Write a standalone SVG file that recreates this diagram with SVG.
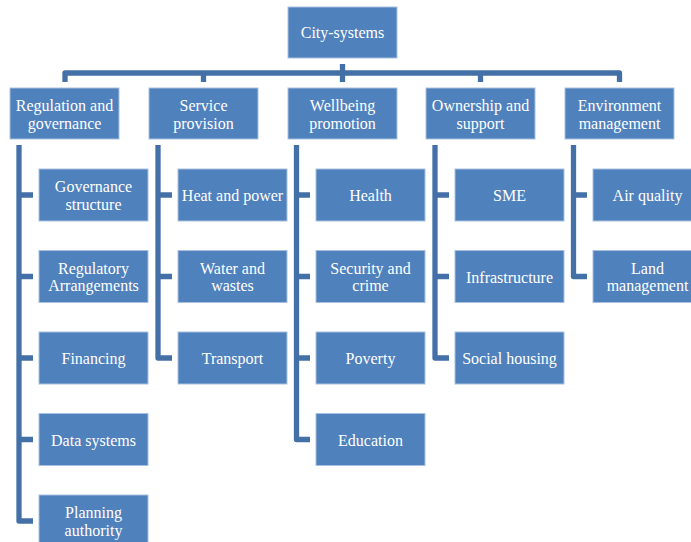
<svg xmlns="http://www.w3.org/2000/svg" width="691" height="542" viewBox="0 0 691 542">
<style>
.b{fill:#4F81BD;stroke:#A9C0E0;stroke-width:1}
.t{font-family:"Liberation Serif","Times New Roman",serif;font-size:16px;fill:#fff;text-anchor:middle}
.c{fill:none;stroke:#4470A8;stroke-width:5.3;stroke-linejoin:round;stroke-linecap:butt}
</style>
<rect width="691" height="542" fill="#fff"/>
<g id="connectors">
<path class="c" d="M65,82 V73 H619.5 V82"/>
<path class="c" d="M203.5,73 V82 M342.5,64 V82 M480.5,73 V82"/>
<path class="c" d="M19,145 V521 H33 M19,195 H33 M19,276.5 H33 M19,358 H33 M19,439.5 H33"/>
<path class="c" d="M158,145 V358 H172 M158,195 H172 M158,276.5 H172"/>
<path class="c" d="M296.5,145 V439.5 H310 M296.5,195 H310 M296.5,276.5 H310 M296.5,358 H310"/>
<path class="c" d="M435,145 V358 H449 M435,195 H449 M435,276.5 H449"/>
<path class="c" d="M573.5,145 V276.5 H587 M573.5,195 H587"/>
</g>
<g id="city-systems"><rect class="b" x="288" y="7" width="109" height="51"/><text class="t" x="342.5" y="38">City-systems</text></g>
<g id="regulation"><rect class="b" x="10" y="88" width="109" height="51"/><text class="t" x="64.5" y="111">Regulation and</text><text class="t" x="64.5" y="128.5">governance</text></g>
<g id="service"><rect class="b" x="149" y="88" width="109" height="51"/><text class="t" x="203.5" y="111">Service</text><text class="t" x="203.5" y="128.5">provision</text></g>
<g id="wellbeing"><rect class="b" x="288" y="88" width="109" height="51"/><text class="t" x="342.5" y="111">Wellbeing</text><text class="t" x="342.5" y="128.5">promotion</text></g>
<g id="ownership"><rect class="b" x="426" y="88" width="109" height="51"/><text class="t" x="480.5" y="111">Ownership and</text><text class="t" x="480.5" y="128.5">support</text></g>
<g id="environment"><rect class="b" x="565" y="88" width="109" height="51"/><text class="t" x="619.5" y="111">Environment</text><text class="t" x="619.5" y="128.5">management</text></g>
<g id="governance-structure"><rect class="b" x="39" y="169" width="109" height="52"/><text class="t" x="93.5" y="192">Governance</text><text class="t" x="93.5" y="209.5">structure</text></g>
<g id="regulatory"><rect class="b" x="39" y="250.5" width="109" height="52"/><text class="t" x="93.5" y="273.5">Regulatory</text><text class="t" x="93.5" y="291">Arrangements</text></g>
<g id="financing"><rect class="b" x="39" y="332" width="109" height="52"/><text class="t" x="93.5" y="364">Financing</text></g>
<g id="data-systems"><rect class="b" x="39" y="413.5" width="109" height="52"/><text class="t" x="93.5" y="445.5">Data systems</text></g>
<g id="planning"><rect class="b" x="39" y="495" width="109" height="52"/><text class="t" x="93.5" y="518">Planning</text><text class="t" x="93.5" y="535.5">authority</text></g>
<g id="heat"><rect class="b" x="178" y="169" width="109" height="52"/><text class="t" x="232.5" y="201">Heat and power</text></g>
<g id="water"><rect class="b" x="178" y="250.5" width="109" height="52"/><text class="t" x="232.5" y="273.5">Water and</text><text class="t" x="232.5" y="291">wastes</text></g>
<g id="transport"><rect class="b" x="178" y="332" width="109" height="52"/><text class="t" x="232.5" y="364">Transport</text></g>
<g id="health"><rect class="b" x="316" y="169" width="109" height="52"/><text class="t" x="370.5" y="201">Health</text></g>
<g id="security"><rect class="b" x="316" y="250.5" width="109" height="52"/><text class="t" x="370.5" y="273.5">Security and</text><text class="t" x="370.5" y="291">crime</text></g>
<g id="poverty"><rect class="b" x="316" y="332" width="109" height="52"/><text class="t" x="370.5" y="364">Poverty</text></g>
<g id="education"><rect class="b" x="316" y="413.5" width="109" height="52"/><text class="t" x="370.5" y="445.5">Education</text></g>
<g id="sme"><rect class="b" x="455" y="169" width="109" height="52"/><text class="t" x="509.5" y="201">SME</text></g>
<g id="infrastructure"><rect class="b" x="455" y="250.5" width="109" height="52"/><text class="t" x="509.5" y="282.5">Infrastructure</text></g>
<g id="social-housing"><rect class="b" x="455" y="332" width="109" height="52"/><text class="t" x="509.5" y="364">Social housing</text></g>
<g id="air-quality"><rect class="b" x="593" y="169" width="109" height="52"/><text class="t" x="647.5" y="201">Air quality</text></g>
<g id="land"><rect class="b" x="593" y="250.5" width="109" height="52"/><text class="t" x="647.5" y="273.5">Land</text><text class="t" x="647.5" y="291">management</text></g>
</svg>
